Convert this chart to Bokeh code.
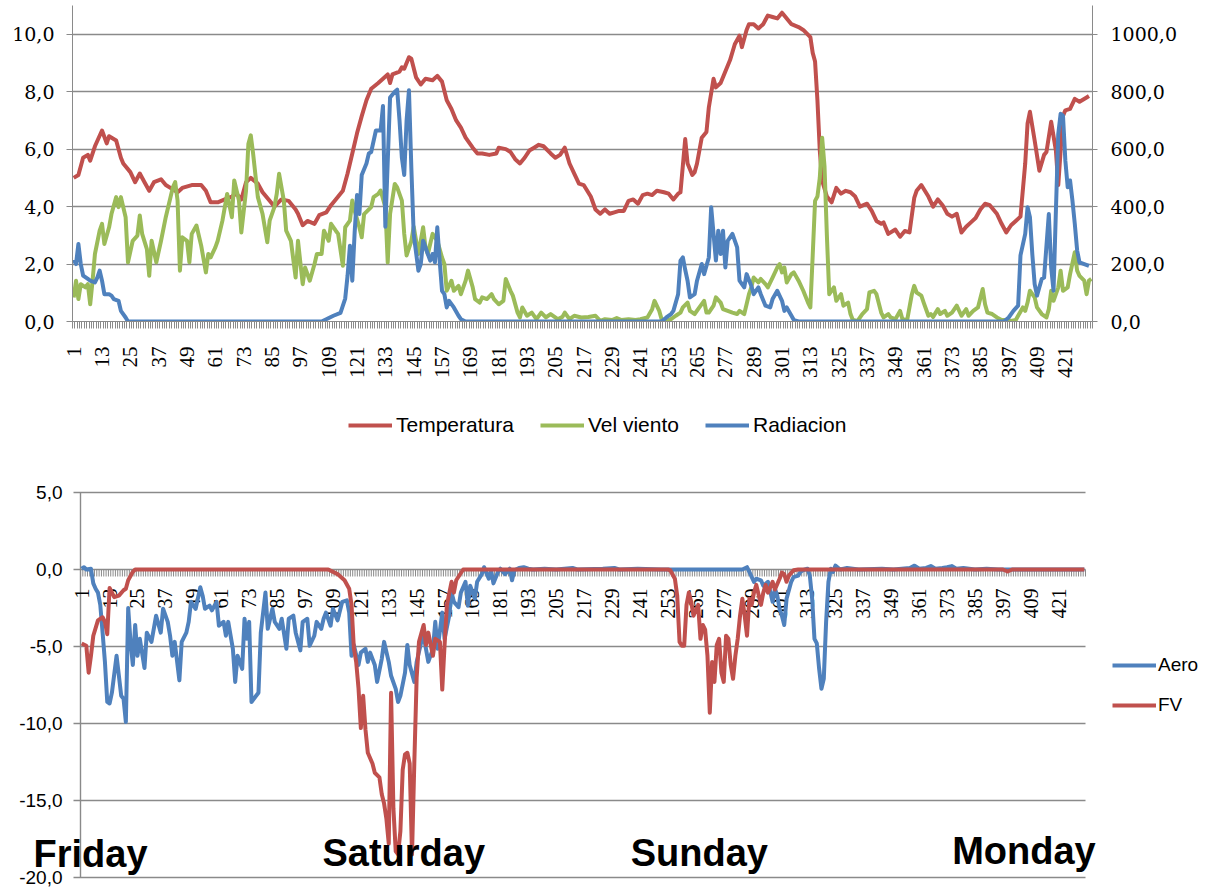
import math
from bokeh.plotting import figure
from bokeh.models import Range1d, LinearAxis, FixedTicker, Legend, LegendItem, Label
from bokeh.layouts import column
from bokeh.embed import file_html
from bokeh.resources import INLINE
from bokeh.core.properties import value

# ---------------- data ----------------
N_CAT = 432
x_tick_cats = list(range(1, 422, 12))
x_tick_labels = [str(c) for c in x_tick_cats]

# (category, value) pairs
temp_pts = [(1,5.0),(3,5.1),(5,5.7),(7,5.8),(8,5.6),(10,6.1),(13,6.65),(15,6.2),(16,6.45),(19,6.3),
    (21,5.7),(22,5.5),(25,5.2),(27,4.85),(29,5.15),(31,4.85),(33,4.55),(35,4.85),(38,4.95),(40,4.75),
    (43,4.6),(45,4.5),(47,4.65),(51,4.75),(55,4.75),(57,4.55),(59,4.15),(62,4.15),(65,4.25),(68,4.35),
    (70,4.45),(72,4.25),(74,4.85),(76,5.0),(79,4.8),(81,4.5),(84,4.2),(86,4.0),(89,4.25),(92,4.2),
    (95,3.9),(96,3.75),(98,3.35),(100,3.5),(103,3.4),(105,3.7),(108,3.8),(110,4.05),(112,4.25),(115,4.55),
    (117,5.15),(119,5.85),(121,6.55),(123,7.15),(125,7.7),(127,8.1),(130,8.3),(132,8.45),(134,8.6),(135,8.3),
    (136,8.6),(139,8.7),(140,8.85),(141,8.8),(143,9.2),(144,9.15),(146,8.5),(148,8.25),(150,8.45),(153,8.4),
    (155,8.55),(157,8.35),(159,7.7),(161,7.4),(163,7.0),(165,6.75),(167,6.4),(170,6.05),(172,5.85),(174,5.85),
    (177,5.8),(180,5.85),(181,6.05),(184,6.0),(186,5.9),(188,5.65),(190,5.5),(192,5.7),(194,5.95),(196,6.05),
    (198,6.15),(200,6.1),(203,5.85),(205,5.7),(207,5.8),(209,6.05),(211,5.5),(213,5.15),(215,4.8),(217,4.75),
    (220,4.35),(222,3.9),(224,3.75),(226,3.9),(228,3.75),(230,3.8),(232,3.85),(234,3.85),(236,4.2),(238,4.25),
    (240,4.1),(242,4.4),(244,4.45),(246,4.4),(248,4.55),(251,4.5),(253,4.45),(255,4.25),(257,4.45),(258,4.5),
    (260,6.35),(261,5.5),(263,5.1),(264,5.2),(265,5.5),(267,6.4),(269,6.6),(270,7.45),(272,8.45),(273,8.15),
    (275,8.3),(277,8.7),(279,9.1),(281,9.65),(283,9.95),(284,9.55),(286,10.15),(287,10.35),(289,10.35),(291,10.2),
    (293,10.35),(295,10.65),(297,10.6),(299,10.55),(301,10.75),(303,10.55),(305,10.35),(308,10.25),(310,10.15),(313,9.9),
    (314,9.35),(315,9.05),(316,7.7),(317,5.95),(318,4.9),(320,4.35),(322,4.15),(324,4.65),(326,4.45),(328,4.55),
    (330,4.5),(332,4.35),(334,4.0),(337,4.1),(339,3.85),(341,3.5),(343,3.4),(344,3.45),(346,3.05),(349,3.2),
    (351,2.95),(353,3.15),(355,3.1),(357,4.3),(358,4.55),(360,4.75),(363,4.35),(365,4.0),(367,4.25),(369,4.05),
    (371,3.75),(373,3.65),(375,3.75),(377,3.1),(379,3.3),(381,3.45),(383,3.6),(385,3.9),(387,4.1),(389,4.05),
    (392,3.75),(394,3.4),(396,3.1),(398,3.35),(400,3.5),(402,3.65),(404,5.5),(405,6.9),(406,7.3),(408,6.3),
    (410,5.25),(412,5.8),(413,5.9),(415,6.95),(417,5.95),(418,4.75),(420,7.15),(421,7.35),(423,7.4),(425,7.75),
    (427,7.65),(430,7.8),(431,7.85)]

wind_pts = [(1,0.84),(2,1.42),(3,0.78),(4,1.3),(6,1.19),(7,1.3),(8,0.6),(9,1.42),(10,2.35),(12,3.16),
    (13,3.4),(14,2.7),(16,3.28),(17,3.74),(19,4.33),(20,3.98),(21,4.33),(23,3.63),(24,2.06),(26,2.81),
    (28,2.99),(29,3.69),(30,3.05),(32,2.52),(33,1.59),(34,2.81),(36,2.06),(38,2.81),(40,3.63),(43,4.67),
    (44,4.85),(45,4.21),(46,1.77),(47,2.93),(49,2.81),(50,2.06),(51,3.05),(53,3.34),(55,2.64),(57,1.71),
    (58,2.35),(59,2.23),(61,2.58),(62,2.81),(64,3.51),(66,4.44),(68,3.63),(69,4.91),(71,4.21),(72,3.1),
    (74,4.56),(75,6.19),(76,6.48),(77,5.84),(79,4.33),(81,3.74),(83,2.76),(84,3.51),(86,3.98),(87,4.44),
    (88,5.14),(90,4.21),(91,3.16),(93,2.81),(95,1.53),(96,2.81),(98,1.3),(99,1.88),(101,1.42),(103,2.0),
    (104,2.35),(106,2.35),(107,3.16),(109,2.81),(110,3.4),(112,3.16),(113,3.05),(115,1.94),(116,3.28),(118,3.51),
    (119,4.21),(120,3.86),(122,3.28),(123,2.93),(124,3.74),(127,3.98),(128,4.33),(130,4.44),(131,4.56),(133,3.98),
    (134,2.06),(135,3.74),(137,4.79),(138,4.67),(140,4.21),(141,3.05),(142,2.3),(144,2.8),(145,3.3),(147,2.35),
    (149,3.28),(150,2.58),(151,2.35),(153,3.05),(155,2.81),(157,2.23),(158,2.0),(159,1.07),(161,1.42),(162,1.07),
    (164,1.24),(165,0.95),(167,1.42),(168,1.77),(170,1.19),(171,0.78),(173,0.66),(174,0.84),(176,0.78),(178,0.95),
    (179,0.78),(181,0.6),(183,0.72),(184,1.48),(186,1.07),(187,0.9),(189,0.31),(190,0.14),(191,0.49),(193,0.2),
    (195,0.31),(197,0.08),(199,0.31),(201,0.14),(203,0.26),(206,0.08),(208,0.16),(209,0.31),(211,0.08),(213,0.2),
    (216,0.14),(219,0.16),(222,0.2),(224,0.02),(226,0.08),(229,0.05),(231,0.12),(233,0.05),(236,0.08),(239,0.05),
    (241,0.08),(244,0.14),(246,0.43),(247,0.72),(249,0.37),(250,0.08),(252,0.02),(254,0.08),(256,0.2),(258,0.31),
    (259,0.49),(261,0.66),(262,0.37),(264,0.26),(266,0.49),(268,0.72),(269,0.31),(270,0.31),(272,0.55),(273,0.84),
    (275,0.66),(276,0.43),(278,0.37),(280,0.31),(282,0.26),(283,0.37),(285,0.26),(286,0.6),(287,0.95),(288,1.19),
    (289,1.53),(291,1.36),(292,1.48),(294,1.3),(295,1.19),(297,1.53),(299,1.88),(300,2.0),(301,1.71),(302,1.88),
    (303,1.36),(305,1.65),(306,1.71),(308,1.42),(310,1.07),(312,0.66),(313,0.49),(314,2.3),(315,4.2),(316,4.35),
    (317,5.0),(318,6.4),(319,5.4),(320,3.0),(321,0.95),(323,1.19),(324,0.72),(326,0.95),(327,0.55),(329,0.66),
    (330,0.26),(331,0.05),(333,0.02),(335,0.26),(337,0.43),(338,1.01),(340,1.07),(341,0.95),(343,0.31),(344,0.14),
    (346,0.26),(347,0.14),(349,0.08),(351,0.37),(352,0.08),(354,0.05),(356,0.95),(357,1.24),(358,1.01),(360,0.9),
    (361,0.66),(363,0.2),(364,0.26),(365,0.16),(367,0.43),(368,0.26),(370,0.37),(371,0.2),(373,0.31),(375,0.55),
    (377,0.2),(379,0.43),(380,0.2),(382,0.37),(384,0.49),(386,1.13),(387,0.6),(388,0.31),(390,0.26),(392,0.14),
    (394,0.05),(396,0.05),(398,0.02),(400,0.05),(401,0.2),(403,0.49),(404,0.37),(405,0.66),(406,1.07),(408,0.84),
    (409,0.49),(411,0.26),(413,0.14),(414,0.43),(415,1.07),(416,0.72),(418,1.19),(419,1.77),(420,1.07),(422,1.19),
    (423,1.65),(425,2.41),(426,1.77),(427,1.59),(429,1.42),(430,0.95),(431,1.42),(432,1.48)]

rad_pts = [(1,215),(2,200),(3,270),(4,200),(5,160),(7,148),(8,142),(10,136),(11,153),(12,177),
    (13,142),(14,95),(16,95),(17,90),(18,78),(20,72),(21,37),(23,14),(24,0),(106,0),
    (108,8),(111,20),(114,30),(116,80),(117,160),(118,264),(119,142),(120,310),(121,440),(122,374),
    (123,510),(125,550),(126,585),(127,590),(129,665),(131,665),(132,750),(133,330),(135,780),(137,800),
    (138,807),(139,700),(140,570),(141,510),(142,700),(143,805),(144,537),(145,305),(147,177),(148,200),
    (149,281),(151,235),(152,212),(153,235),(154,206),(155,328),(156,212),(157,107),(158,95),(159,49),
    (160,72),(162,49),(164,20),(165,8),(167,0),(250,0),(252,14),(254,26),(255,37),(257,95),
    (258,212),(259,223),(260,180),(261,142),(262,84),(264,95),(265,142),(267,200),(268,165),(270,223),
    (271,398),(272,305),(273,212),(274,316),(275,235),(276,316),(277,188),(278,281),(280,305),(282,258),
    (283,142),(285,119),(286,165),(288,124),(289,95),(291,119),(292,95),(294,55),(296,49),(297,78),
    (299,107),(301,72),(302,37),(303,49),(305,20),(306,5),(308,0),(395,0),(397,14),(399,37),
    (401,55),(402,230),(404,305),(405,398),(406,363),(407,235),(408,130),(409,90),(410,119),(411,148),
    (412,153),(414,374),(415,188),(416,107),(417,386),(418,653),(419,723),(420,717),(421,560),(422,467),
    (423,491),(424,421),(425,340),(426,247),(427,206),(429,200),(431,194)]

aero_pts = [(1,0.05),(2,0.15),(3,0.0),(5,0.05),(6,-0.9),(7,-1.25),(8,-1.5),(9,-2.3),(10,-4.1),(11,-6.0),
    (12,-8.6),(13,-8.7),(14,-8.0),(16,-5.6),(17,-6.9),(18,-8.2),(19,-8.4),(20,-9.9),(21,-2.5),(22,-4.7),
    (23,-6.2),(24,-3.6),(25,-5.6),(26,-4.5),(28,-6.4),(29,-4.1),(31,-4.7),(32,-3.85),(33,-3.0),(35,-4.1),
    (36,-2.55),(38,-3.4),(39,-4.3),(40,-5.6),(41,-4.7),(43,-7.2),(44,-4.7),(46,-4.1),(47,-3.4),(48,-2.1),
    (50,-2.55),(52,-1.15),(53,-1.7),(54,-2.55),(56,-2.35),(57,-2.65),(59,-2.1),(60,-3.65),(62,-3.4),(63,-4.3),
    (64,-3.4),(66,-5.15),(67,-7.3),(68,-5.6),(70,-6.45),(71,-3.2),(72,-4.5),(73,-3.4),(74,-8.6),(76,-8.2),
    (77,-8.0),(78,-4.1),(80,-1.5),(81,-3.85),(83,-2.55),(84,-3.4),(86,-3.85),(87,-3.2),(89,-5.15),(90,-3.2),
    (92,-3.0),(93,-4.1),(95,-5.25),(96,-3.4),(98,-3.2),(99,-4.95),(101,-4.3),(102,-3.4),(104,-3.85),(105,-3.2),
    (106,-2.8),(108,-3.65),(109,-2.55),(111,-3.3),(113,-2.1),(115,-2.0),(116,-2.8),(117,-5.6),(118,-4.9),(120,-6.2),
    (121,-5.4),(123,-5.15),(124,-6.0),(125,-5.4),(127,-6.2),(128,-7.3),(130,-5.8),(131,-4.7),(133,-6.0),(134,-6.9),
    (136,-7.75),(137,-8.6),(138,-8.2),(140,-6.7),(141,-4.9),(142,-6.2),(144,-7.3),(145,-6.0),(147,-4.7),(148,-4.3),
    (149,-5.15),(150,-6.0),(152,-5.15),(153,-3.4),(154,-5.15),(156,-2.8),(157,-4.5),(159,-3.0),(160,-1.5),(161,-2.1),
    (163,-2.45),(164,-1.5),(166,-0.8),(167,-2.35),(168,-1.05),(170,-1.9),(171,-0.8),(173,-0.3),(174,0.15),(176,-0.6),
    (177,-0.05),(178,-0.9),(180,-0.15),(181,0.05),(183,-0.3),(185,0.05),(186,-0.7),(187,-0.05),(189,0.1),(191,0.15),
    (193,0.05),(195,0.0),(200,0.05),(205,0.0),(212,0.1),(214,0.0),(225,0.05),(230,0.1),(232,0.0),(240,0.05),
    (250,0.0),(285,0.0),(287,0.15),(288,-0.15),(290,-0.8),(291,-0.6),(293,-0.7),(294,-1.05),(296,-0.8),(297,-1.45),
    (298,-2.1),(299,-1.25),(300,-1.7),(301,-2.55),(302,-3.0),(303,-3.6),(304,-1.9),(306,-0.8),(307,-0.5),(309,-0.4),
    (310,-0.15),(311,-0.05),(313,0.05),(314,-0.4),(315,-1.9),(316,-4.5),(317,-4.8),(318,-6.45),(319,-7.75),(320,-7.1),
    (321,-3.4),(322,-0.8),(323,0.05),(324,-0.15),(325,0.25),(327,0.0),(330,0.1),(335,0.0),(345,0.05),(350,0.0),
    (357,0.1),(359,0.25),(361,0.05),(364,0.1),(366,0.22),(368,0.05),(371,0.1),(373,0.15),(375,0.22),(377,0.05),
    (380,0.1),(385,0.0),(390,0.05),(395,0.0),(432,0.0)]

fv_pts = [(1,-4.8),(3,-4.95),(4,-6.7),(5,-5.6),(6,-4.3),(8,-3.3),(10,-3.1),(11,-3.4),(12,-4.2),(13,-1.2),
    (15,-1.8),(17,-1.7),(19,-1.35),(20,-1.25),(21,-0.7),(23,-0.15),(24,0.0),(107,0.0),(111,-0.3),(114,-0.7),
    (116,-1.25),(117,-2.3),(118,-5.1),(119,-6.0),(120,-7.7),(121,-10.3),(122,-8.2),(123,-10.4),(124,-11.9),(126,-12.6),
    (127,-13.2),(129,-13.5),(130,-14.6),(131,-15.2),(132,-16.2),(133,-17.8),(134,-8.0),(135,-15.5),(136,-18.3),(137,-18.5),
    (138,-17.0),(139,-13.0),(140,-12.0),(141,-11.9),(142,-12.6),(143,-18.5),(144,-12.5),(145,-7.0),(146,-4.7),(148,-3.6),
    (149,-4.9),(150,-4.1),(152,-5.6),(153,-4.5),(155,-4.7),(156,-7.8),(157,-4.9),(158,-2.3),(160,-0.8),(161,-1.5),
    (162,-0.7),(165,0.0),(253,0.0),(254,-0.05),(256,-0.6),(257,-1.7),(258,-4.7),(259,-4.95),(260,-4.95),(261,-2.3),
    (262,-1.5),(263,-2.1),(264,-3.0),(266,-2.3),(267,-4.5),(268,-3.6),(269,-3.9),(270,-5.6),(271,-9.3),(272,-6.0),
    (273,-7.3),(274,-4.9),(275,-4.5),(276,-6.7),(277,-7.3),(278,-4.3),(279,-4.5),(280,-6.2),(281,-7.1),(282,-5.6),
    (283,-4.5),(284,-3.0),(285,-1.9),(286,-3.0),(287,-4.3),(288,-1.9),(289,-2.3),(290,-1.5),(291,-1.0),(293,-2.3),
    (294,-1.5),(295,-1.0),(296,-1.5),(298,-0.8),(299,-1.3),(301,-0.6),(302,-0.2),(303,-0.3),(304,-0.8),(305,-0.4),
    (307,-0.05),(309,0.0),(397,0.0),(399,-0.13),(401,0.0),(432,0.0)]

top_left_ticks = [0, 2, 4, 6, 8, 10]
top_right_ticks = [0, 200, 400, 600, 800, 1000]
bottom_ticks = [-20, -15, -10, -5, 0, 5]

day_names = ["Friday", "Saturday", "Sunday", "Monday"]
day_x = [-19.7, 104.5, 237.0, 375.2]      # category position of the left edge of each word
day_y = [-18.5, -18.4, -18.4, -18.25]

series_top = ["Temperatura", "Vel viento", "Radiacion"]
series_bottom = ["Aero", "FV"]

# ---------------- style / layout ----------------
RED = "#C0504D"
GREEN = "#9BBB59"
BLUE = "#4F81BD"
GRID = "#8a8a8a"
LW = 4
W = 1211
TOP_H = 395
BOT_H = 889 - TOP_H


def unzip(pts):
    return [a for a, _ in pts], [b for _, b in pts]


def fmt(v):
    return f"{v:.1f}".replace(".", ",")


boundaries = [i + 0.5 for i in range(0, N_CAT + 1)]

tx, ty = unzip(temp_pts)
wx, wy = unzip(wind_pts)
rx, ry = unzip(rad_pts)
ax_, ay_ = unzip(aero_pts)
fx_, fy_ = unzip(fv_pts)

# ================= top chart =================
p1 = figure(width=W, height=TOP_H, output_backend="svg", toolbar_location=None,
            x_range=Range1d(0.5, N_CAT + 0.5), y_range=Range1d(0, 11),
            min_border_left=72, min_border_right=119, min_border_top=5,
            min_border_bottom=TOP_H - 321)
p1.extra_y_ranges = {"rad": Range1d(0, 1100)}
p1.outline_line_color = None
p1.xgrid.visible = False
p1.ygrid.ticker = FixedTicker(ticks=top_left_ticks)
p1.ygrid.grid_line_color = GRID
p1.ygrid.grid_line_width = 1.4

xa = p1.xaxis[0]
xa.ticker = FixedTicker(ticks=x_tick_cats, minor_ticks=boundaries)
xa.major_label_overrides = {c: s for c, s in zip(x_tick_cats, x_tick_labels)}
xa.major_label_orientation = math.pi / 2
xa.major_tick_out = 0
xa.major_tick_in = 0
xa.minor_tick_out = 7
xa.minor_tick_in = 0
xa.minor_tick_line_color = GRID
xa.axis_line_color = GRID
xa.major_label_standoff = 18
xa.major_label_text_font = "Liberation Serif"
xa.major_label_text_font_size = "21px"
xa.major_label_text_color = "black"

ya = p1.yaxis[0]
ya.ticker = FixedTicker(ticks=top_left_ticks, minor_ticks=[])
ya.major_label_overrides = {t: fmt(t) for t in top_left_ticks}
ya.major_tick_out = 6
ya.major_tick_in = 0
ya.major_tick_line_color = GRID
ya.axis_line_color = GRID
ya.major_label_standoff = 12
ya.major_label_text_font = "DejaVu Serif"
ya.major_label_text_font_size = "19px"
ya.major_label_text_color = "black"

ra = LinearAxis(y_range_name="rad", ticker=FixedTicker(ticks=top_right_ticks, minor_ticks=[]),
                major_label_overrides={t: fmt(t) for t in top_right_ticks})
ra.major_tick_out = 5
ra.major_tick_in = 0
ra.major_tick_line_color = GRID
ra.axis_line_color = GRID
ra.major_label_standoff = 13
ra.major_label_text_font = "DejaVu Serif"
ra.major_label_text_font_size = "19px"
ra.major_label_text_color = "black"
p1.add_layout(ra, "right")

p1.line(tx, ty, line_color=RED, line_width=LW, line_join="round")
p1.line(wx, wy, line_color=GREEN, line_width=LW, line_join="round")
p1.line(rx, ry, line_color=BLUE, line_width=LW, line_join="round", y_range_name="rad")

# ================= bottom chart (frame spans the whole canvas) =================
PPC = 1005 / N_CAT            # pixels per category
PPU = 385 / 25                # pixels per unit
AX_LEFT, AX_RIGHT = 80, 1085  # category-axis extent on the page
Y5_PX = 492 - TOP_H           # position of the 5,0 line inside this figure
x_lo = 0.5 - AX_LEFT / PPC
x_hi = N_CAT + 0.5 + (W - AX_RIGHT) / PPC
y_hi = 5 + Y5_PX / PPU
y_lo = 5 - (BOT_H - Y5_PX) / PPU

p2 = figure(width=W, height=BOT_H, output_backend="svg", toolbar_location=None,
            x_range=Range1d(x_lo, x_hi), y_range=Range1d(y_lo, y_hi),
            x_axis_location=None, y_axis_location=None, min_border=0)
p2.outline_line_color = None
p2.xgrid.visible = False
p2.ygrid.visible = False
for pp in (p1, p2):
    if "frame_align" in pp.properties():
        pp.frame_align = False

tick_len = 7 / PPC
# value axis: grid lines, axis line, tick labels
p2.segment(x0=[0.5 - tick_len] * len(bottom_ticks), y0=bottom_ticks,
           x1=[N_CAT + 0.5] * len(bottom_ticks), y1=bottom_ticks,
           line_color=GRID, line_width=1.4)
p2.segment(x0=[0.5], y0=[bottom_ticks[0]], x1=[0.5], y1=[bottom_ticks[-1]],
           line_color=GRID, line_width=1.4)
p2.text(x=[0.5] * len(bottom_ticks), y=bottom_ticks, text=[fmt(t) for t in bottom_ticks],
        x_offset=-18, text_align="right", text_baseline="middle",
        text_font=value("Liberation Sans"), text_font_size="19px", text_color="black")

# category axis at y = 0 (tick hatch and labels)
p2.segment(x0=boundaries, y0=[0] * len(boundaries), x1=boundaries,
           y1=[-7 / PPU] * len(boundaries), line_color=GRID, line_width=1)
p2.text(x=x_tick_cats, y=[0] * len(x_tick_cats), text=x_tick_labels, angle=math.pi / 2,
        text_align="right", text_baseline="middle", y_offset=19,
        text_font=value("Liberation Serif"), text_font_size="20px", text_color="black")

r_a = p2.line(ax_, ay_, line_color=BLUE, line_width=LW, line_join="round")
r_f = p2.line(fx_, fy_, line_color=RED, line_width=LW, line_join="round")

# legend keys for the upper chart (hidden twins of the upper series, drawn on this canvas)
k_t = p2.line(tx, ty, line_color=RED, line_width=LW, visible=False)
k_w = p2.line(wx, wy, line_color=GREEN, line_width=LW, visible=False)
k_r = p2.line(rx, ry, line_color=BLUE, line_width=LW, visible=False)

leg1 = Legend(items=[LegendItem(label=series_top[0], renderers=[k_t]),
                     LegendItem(label=series_top[1], renderers=[k_w]),
                     LegendItem(label=series_top[2], renderers=[k_r])],
              orientation="horizontal", location=(348, BOT_H - (437 - TOP_H)),
              glyph_width=44, glyph_height=20, label_standoff=4, spacing=26,
              padding=5, margin=0, border_line_color=None, background_fill_alpha=0,
              inactive_fill_alpha=0,
              label_text_font="Liberation Sans", label_text_font_size="21px",
              label_text_color="black")
p2.add_layout(leg1, "center")

leg2 = Legend(items=[LegendItem(label=series_bottom[0], renderers=[r_a]),
                     LegendItem(label=series_bottom[1], renderers=[r_f])],
              orientation="vertical", location=(1112, BOT_H - (716 - TOP_H)),
              glyph_width=44, glyph_height=20, label_standoff=2, spacing=18,
              padding=5, margin=0, border_line_color=None, background_fill_alpha=0,
              label_text_font="Liberation Sans", label_text_font_size="19px",
              label_text_color="black")
p2.add_layout(leg2, "center")

for name, dx, dy in zip(day_names, day_x, day_y):
    p2.add_layout(Label(x=dx, y=dy, text=name, text_align="left", text_baseline="alphabetic",
                        text_font="Liberation Sans", text_font_style="bold",
                        text_font_size="38px", text_color="black"))

layout = column(p1, p2, spacing=0)
open("out.html", "w").write(file_html(layout, INLINE))
